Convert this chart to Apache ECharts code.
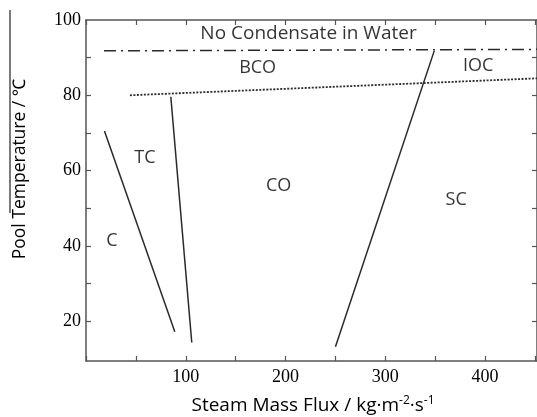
<!DOCTYPE html>
<html>
<head>
<meta charset="utf-8">
<script src="https://cdn.jsdelivr.net/npm/echarts@6/dist/echarts.min.js"></script>
<style>html,body{margin:0;padding:0;background:#fff;}#c{width:537px;height:417px;}</style>
</head>
<body>
<div id="c"></div>
<script>
// boundary lines [x, y]
var lineC = [[18.5, 70.5], [89, 17.2]];
var lineTC = [[85, 79.6], [106, 14.3]];
var lineSC = [[250, 13.2], [349, 91.8]];
var lineNoCond = [[18, 91.8], [452, 92.2]];
var lineBCO = [[44, 80.0], [452, 84.5]];
// region labels
var regionNames = ['No Condensate in Water', 'BCO', 'IOC', 'TC', 'CO', 'SC', 'C'];
var regionX = [223, 172, 393, 59, 193, 371, 26];
var regionY = [96.3, 87.2, 87.8, 63.3, 55.9, 52.2, 41.3];
var xLabelValues = [100, 200, 300, 400];
var yLabelValues = [20, 40, 60, 80, 100];
var yTickValues = [20, 30, 40, 50, 60, 70, 80, 90];

var ink = '#2a2a2a';
var sans = '"Open Sans", "Noto Sans", sans-serif';
var serif = '"Liberation Serif", "DejaVu Serif", serif';

function seg(data, dash, w) {
  return {
    type: 'line', data: data, symbol: 'none', silent: true, xAxisIndex: 0, yAxisIndex: 0,
    lineStyle: { color: ink, width: w || 1.5, type: dash || 'solid' }
  };
}

var labelData = regionNames.map(function (n, i) {
  return { name: n, value: [regionX[i], regionY[i]], label: { fontSize: i === 0 ? 19 : 18 } };
});

var chart = echarts.init(document.getElementById('c'), null, { renderer: 'canvas' });
chart.setOption({
  animation: false,
  backgroundColor: '#fff',
  grid: { left: 86, right: -2, top: 20, bottom: 56, containLabel: false },
  xAxis: [{
    type: 'value', min: 0, max: 452, interval: 50, position: 'bottom',
    axisLine: { show: true, onZero: false, lineStyle: { color: '#555', width: 1.5 } },
    axisTick: { show: true, inside: true, length: 5, lineStyle: { color: '#555', width: 1.2 } },
    axisLabel: { show: true, customValues: xLabelValues, margin: 7, color: '#000', fontFamily: serif, fontSize: 18 },
    splitLine: { show: false }
  }, {
    type: 'value', min: 0, max: 452, interval: 50, position: 'top',
    axisLine: { show: true, onZero: false, lineStyle: { color: '#555', width: 1.5 } },
    axisTick: { show: true, inside: true, length: 5, lineStyle: { color: '#555', width: 1.2 } },
    axisLabel: { show: false }, splitLine: { show: false }
  }],
  yAxis: [{
    type: 'value', min: 9.4, max: 100, position: 'left',
    axisLine: { show: true, onZero: false, lineStyle: { color: '#555', width: 1.5 } },
    axisTick: { show: true, inside: true, length: 5, customValues: yTickValues, lineStyle: { color: '#555', width: 1.2 } },
    axisLabel: { show: true, customValues: yLabelValues, margin: 5, color: '#000', fontFamily: serif, fontSize: 18 },
    splitLine: { show: false }
  }, {
    type: 'value', min: 9.4, max: 100, position: 'right',
    axisLine: { show: true, onZero: false, lineStyle: { color: '#555', width: 1.5 } },
    axisTick: { show: true, inside: true, length: 5, customValues: yTickValues, lineStyle: { color: '#555', width: 1.2 } },
    axisLabel: { show: false }, splitLine: { show: false }
  }],
  series: [
    seg(lineC), seg(lineTC), seg(lineSC),
    seg(lineNoCond, [12, 5, 2, 5], 1.5),
    seg(lineBCO, [2, 1.5], 1.8),
    {
      type: 'scatter', data: labelData, symbolSize: 0, silent: true,
      label: {
        show: true, position: 'inside', formatter: '{b}', color: '#000',
        fontFamily: sans, fontSize: 18
      }
    }
  ],
  graphic: [
    {
      type: 'text', x: 20, y: 169, rotation: Math.PI / 2,
      style: { text: 'Pool Temperature / ℃', font: '17.5px ' + sans, fill: '#000', align: 'center', verticalAlign: 'middle' }
    },
    {
      type: 'line', shape: { x1: 10, y1: 10, x2: 10, y2: 213 }, style: { stroke: '#222', lineWidth: 1.2 }
    },
    {
      type: 'text', x: 313, y: 406,
      style: {
        text: 'Steam Mass Flux / kg·m{s|-2}·s{s|-1}',
        rich: { s: { fontSize: 12, fontFamily: sans, fill: '#000', verticalAlign: 'top', padding: [0, 0, 10, 0] } },
        font: '19px ' + sans, fill: '#000', align: 'center', verticalAlign: 'middle'
      }
    }
  ]
});
</script>
</body>
</html>
